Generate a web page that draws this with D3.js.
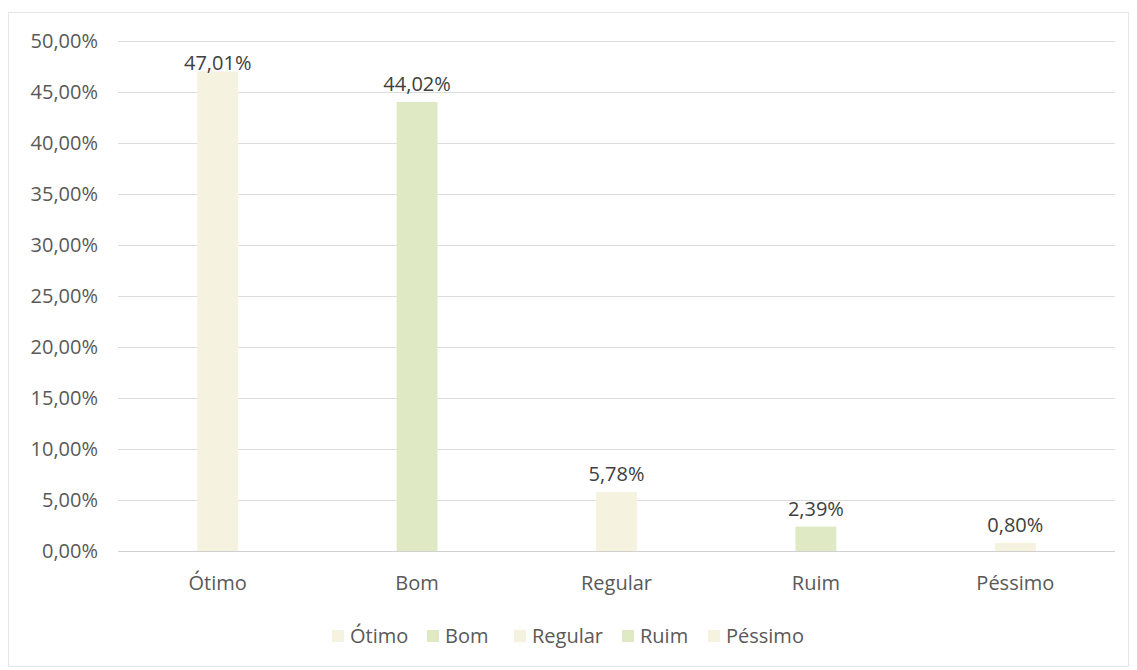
<!DOCTYPE html>
<html><head><meta charset="utf-8">
<script src="https://cdn.jsdelivr.net/npm/d3@7/dist/d3.min.js"></script>
<style>body{margin:0;background:#fff}svg{display:block}</style>
</head><body>
<script>
const categories = ["Ótimo","Bom","Regular","Ruim","Péssimo"];
const values = [47.01, 44.02, 5.78, 2.39, 0.80];
const yTicks = [0,5,10,15,20,25,30,35,40,45,50];
const colors = ["#f6f2e0","#dfe9c3","#f6f2e0","#dfe9c3","#f6f2e0"];

(function(){
const W = 1137, H = 670;
const svg = d3.select("body").append("svg").attr("width", W).attr("height", H);
svg.append("rect").attr("x",8.5).attr("y",12.5).attr("width",1120).attr("height",654)
  .attr("fill","#fff").attr("stroke","#e6e6e6");

const mLeft = 118, mRight = 1115, mTop = 41, mBottom = 551;
const x = d3.scaleBand().domain(categories).range([mLeft,mRight]).paddingInner(0.795).paddingOuter(0.3975);
const y = d3.scaleLinear().domain([0,50]).range([mBottom, mTop]);
const font = "'Open Sans', 'Liberation Sans', sans-serif";
const fs = "20px";
const fmt = v => v.toFixed(2).replace(".", ",") + "%";

const yAxis = svg.append("g").attr("transform",`translate(${mLeft},0)`)
  .call(d3.axisLeft(y).tickValues(yTicks).tickSize(-(mRight-mLeft)).tickFormat(fmt));
yAxis.select(".domain").remove();
yAxis.selectAll(".tick line").attr("stroke","#dcdcdc").attr("stroke-width",1);
yAxis.selectAll(".tick text").attr("x",-20).attr("fill","#595959")
  .style("font-family",font).style("font-size",fs);

svg.append("g").selectAll("rect").data(values).join("rect")
  .attr("x",(d,i)=>x(categories[i])).attr("width",x.bandwidth())
  .attr("y",d=>y(d)).attr("height",d=>mBottom-y(d)).attr("fill",(d,i)=>colors[i]);

svg.append("line").attr("x1",mLeft).attr("x2",mRight).attr("y1",mBottom+0.5).attr("y2",mBottom+0.5).attr("stroke","#d0d0d0");

svg.append("g").selectAll("text").data(values).join("text")
  .attr("x",(d,i)=>x(categories[i])+x.bandwidth()/2).attr("y",d=>Math.max(y(d)-11, 70))
  .attr("text-anchor","middle").attr("fill","#404040")
  .style("font-family",font).style("font-size",fs).text(fmt);

const xAxis = svg.append("g").attr("transform",`translate(0,${mBottom})`)
  .call(d3.axisBottom(x).tickSize(0).tickPadding(25));
xAxis.select(".domain").remove();
xAxis.selectAll(".tick text").attr("fill","#595959").style("font-family",font).style("font-size",fs);

const legendX = [332, 427, 514, 622, 708];
const lg = svg.append("g").selectAll("g").data(categories).join("g")
  .attr("transform",(d,i)=>`translate(${legendX[i]},636)`);
lg.append("rect").attr("x",0).attr("y",-6).attr("width",12).attr("height",12).attr("fill",(d,i)=>colors[i]);
lg.append("text").attr("x",18).attr("y",0).attr("dy","0.35em").attr("fill","#595959")
  .style("font-family",font).style("font-size",fs).text(d=>d);
})();
</script>
</body></html>
